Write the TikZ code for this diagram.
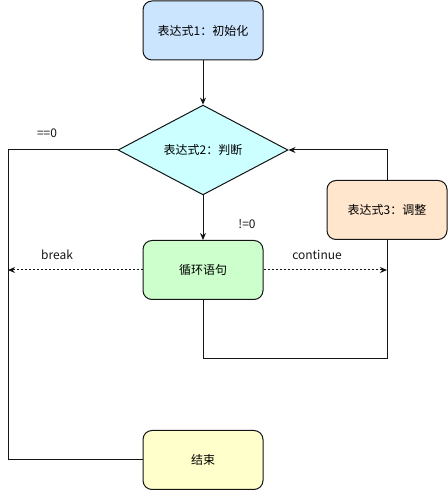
\documentclass[tikz,border=0pt]{standalone}
\usepackage{fontspec}
\setmainfont{Noto Sans CJK SC}
\usepackage{xcolor}
\usetikzlibrary{arrows.meta,positioning,shapes.geometric}
\definecolor{initblue}{HTML}{CCE5FF}
\definecolor{condcyan}{HTML}{CCFFFF}
\definecolor{bodygreen}{HTML}{CCFFCC}
\definecolor{adjorange}{HTML}{FFE6CC}
\definecolor{endyellow}{HTML}{FFFFCC}
\definecolor{ink}{RGB}{20,20,20}

\begin{document}
\begin{tikzpicture}[
  x=1pt, y=1pt,
  font=\fontsize{12}{14}\selectfont,
  box/.style={draw=ink, line width=1pt, rounded corners=9pt, align=center, minimum width=120pt, minimum height=59pt, inner sep=2pt},
  dec/.style={draw=ink, line width=1pt, fill=condcyan, diamond, align=center, minimum width=170pt, minimum height=80pt, inner sep=0pt},
  line/.style={draw=ink, line width=1pt},
  arr/.style={line, -{Stealth[length=7pt,width=6pt]}},
  dotarr/.style={arr, dash pattern=on 2pt off 2pt},
  lbl/.style={text=ink, inner sep=1pt},
]
\useasboundingbox (0,0) rectangle (448,491);
\node[box, fill=initblue] (init) at (203,460.5) {表达式1：初始化};
\node[dec] (cond) at (203,341) {表达式2：判断};
\node[box, fill=bodygreen] (body) at (203,221) {循环语句};
\node[box, fill=adjorange] (adj) at (387,281) {表达式3：调整};
\node[box, fill=endyellow] (fin) at (203,31) {结束};
\coordinate (brk) at (8,221);
\coordinate (cnt) at (387,221);
\coordinate (bot) at (387,132);
% main flow
\draw[arr] (init) -- (cond);
\draw[arr] (cond) -- (body);
\draw[line] (cond.west) -- (cond.west -| brk) |- (fin.west);
\draw[line] (body.south) |- (bot) -- (adj.south);
\draw[arr] (adj.north) |- (cond.east);
% jumps
\draw[dotarr] (body.west) -- (brk);
\draw[dotarr] (body.east) -- (cnt);
% labels
\node[lbl] (eq) at (47,358) {==0};
\node[lbl] (ne) at (247,267) {!=0};
\node[lbl] (brklbl) at (57,236) {break};
\node[lbl] (cntlbl) at (317,236) {continue};
\end{tikzpicture}
\end{document}
